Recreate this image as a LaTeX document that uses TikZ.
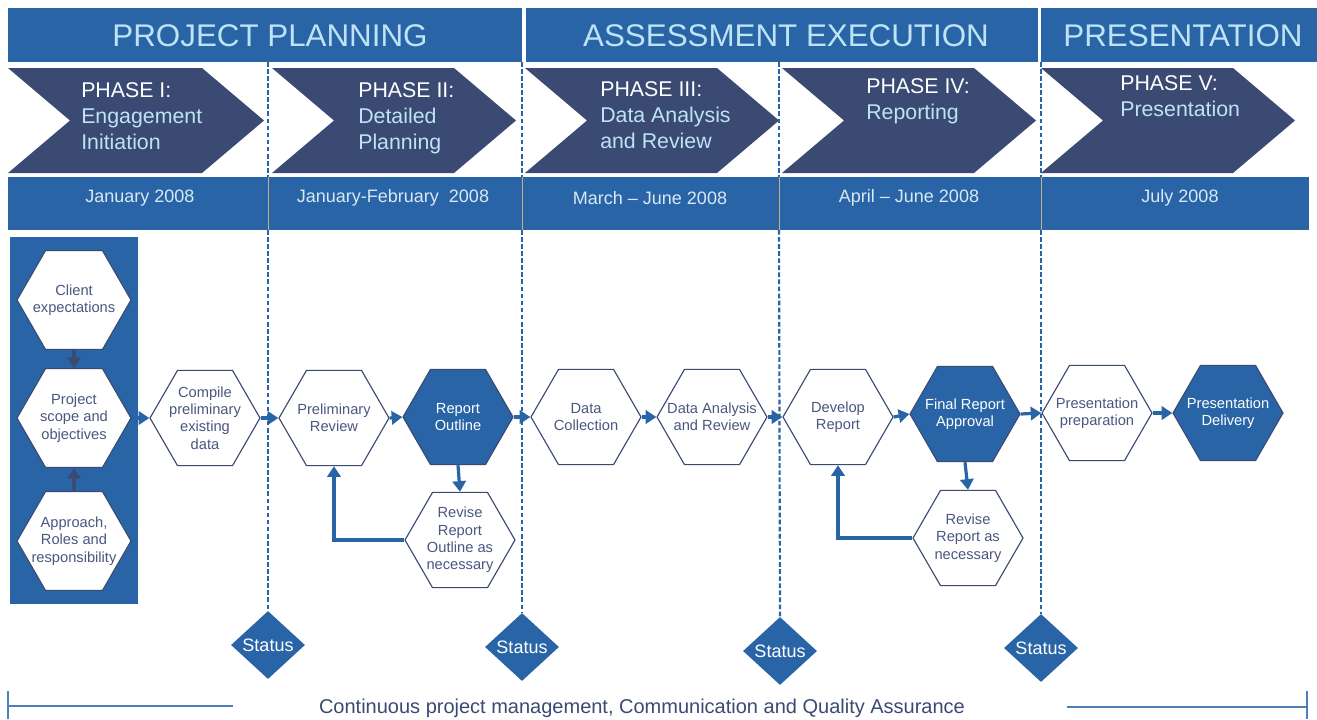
\documentclass[tikz,border=0pt]{standalone}
\usepackage{fontspec}
\setmainfont{Liberation Sans}
\usetikzlibrary{shapes.geometric,arrows.meta,calc}
\definecolor{barblue}{HTML}{2965A6}
\definecolor{navy}{HTML}{3A4A73}
\definecolor{lightblue}{HTML}{BEE3F4}
\definecolor{hextext}{HTML}{4A5880}
\definecolor{datetext}{HTML}{D8E8F5}
\definecolor{sepcol}{HTML}{C2B08C}
\definecolor{linecol}{HTML}{4F7FBA}
\begin{document}
\begin{tikzpicture}[x=0.75pt,y=-0.75pt,
  bar/.style={fill=barblue,draw=none},
  bartext/.style={text=lightblue,font=\fontsize{23.5}{28}\selectfont,inner sep=0pt},
  chev/.style={fill=navy,draw=none},
  chevtext/.style={text=lightblue,font=\fontsize{16}{19.5}\selectfont,align=left,anchor=north west,inner sep=0pt},
  datet/.style={text=datetext,font=\fontsize{13.5}{16}\selectfont,inner sep=0pt},
  hexa/.style={regular polygon,regular polygon sides=6,minimum size=82.5pt,inner sep=0pt,draw=navy,line width=0.85pt,fill=white},
  bighexa/.style={hexa,minimum size=85.5pt},
  hexfill/.style={hexa,fill=barblue},
  hextxt/.style={align=center,font=\fontsize{11}{13}\selectfont,text=hextext,inner sep=0pt},
  hexwtxt/.style={hextxt,text=white},
  flow/.style={draw=barblue,line width=2.4pt,-{Triangle[length=8pt,width=10pt]}},
  navflow/.style={draw=navy,line width=2.4pt,-{Triangle[length=8pt,width=10pt]}},
  dashline/.style={draw=barblue,line width=1.6pt,dash pattern=on 3.5pt off 1.8pt},
  statusd/.style={diamond,fill=barblue,draw=none,inner sep=0pt,minimum width=55.5pt,minimum height=51pt,text=white,font=\fontsize{13.5}{16}\selectfont},
  bline/.style={draw=linecol,line width=1.5pt}
]
\useasboundingbox (0,0) rectangle (1317,719);

% top bars
\fill[bar] (8,8) rectangle (522,62);
\fill[bar] (526,8) rectangle (1038,62);
\fill[bar] (1041,8) rectangle (1317,62);
\node[bartext] (t1) at (270,36) {PROJECT PLANNING};
\node[bartext] (t2) at (786,36) {ASSESSMENT EXECUTION};
\node[bartext] (t3) at (1183,36) {PRESENTATION};

% chevrons
\foreach \L/\R in {8/264,272/516,525/779,782/1036,1041/1295}{
  \fill[chev] (\L,68) -- ({\R-62},68) -- (\R,120.5) -- ({\R-62},173) -- (\L,173) -- ({\L+62},120.5) -- cycle;
}
\node[chevtext] (p1) at (81,82) {\textcolor{white}{PHASE I:}\\Engagement\\Initiation};
\node[chevtext] (p2) at (358,82) {\textcolor{white}{PHASE II:}\\Detailed\\Planning};
\node[chevtext] (p3) at (600,81) {\textcolor{white}{PHASE III:}\\Data Analysis\\and Review};
\node[chevtext] (p4) at (866,78) {\textcolor{white}{PHASE IV:}\\Reporting};
\node[chevtext] (p5) at (1120,75) {\textcolor{white}{PHASE V:}\\Presentation};

% date bar
\fill[bar] (8,177) rectangle (1309,230);
\foreach \x in {268,522,779,1041}{
  \draw[sepcol,line width=0.6pt] (\x,177) -- (\x,230);
}
\node[datet] (d1) at (140,198) {January 2008};
\node[datet] (d2) at (393,198) {January-February\ \ 2008};
\node[datet] (d3) at (650,198) {March – June 2008};
\node[datet] (d4) at (909,198) {April – June 2008};
\node[datet] (d5) at (1180,198) {July 2008};

% status diamonds
\node[statusd] (s1) at (268,645) {Status};
\node[statusd] (s2) at (522,647) {Status};
\node[statusd] (s3) at (780,651) {Status};
\node[statusd] (s4) at (1041,648) {Status};

% dashed lines
\foreach \x/\s in {268/s1,522/s2,779/s3,1041/s4}{
  \draw[dashline] (\x,62) -- (\x,177);
  \draw[dashline] (\x,230) -- (\s.north);
}

% left panel
\fill[bar] (10,237) rectangle (138,604);
\node[bighexa,label={[hextxt]center:{Client\\expectations}}] (ce) at (74,300) {};
\node[bighexa,label={[hextxt]center:{Project\\scope and\\objectives}}] (ps) at (74,418) {};
\node[bighexa,label={[hextxt]center:{Approach,\\Roles and\\responsibility}}] (ap) at (74,541) {};
\draw[navflow] (ce.south) -- (ps.north);
\draw[navflow] (ap.north) -- (ps.south);

% main hexagons
\node[hexa,label={[hextxt]center:{Compile\\preliminary\\existing\\data}}] (cp) at (205,418) {};
\node[hexa,label={[hextxt]center:{Preliminary\\Review}}] (pr) at (334,418) {};
\node[hexfill,label={[hexwtxt]center:{Report\\Outline}}] (ro) at (458,417) {};
\node[hexa,label={[hextxt]center:{Revise\\Report\\Outline as\\necessary}}] (rv) at (460,540) {};
\node[hexa,label={[hextxt]center:{Data\\Collection}}] (dc) at (586,417) {};
\node[hexa,label={[hextxt]center:{Data Analysis\\and Review}}] (da) at (712,417) {};
\node[hexa,label={[hextxt]center:{Develop\\Report}}] (dr) at (838,417) {};
\node[hexfill,label={[hexwtxt]center:{Final Report\\Approval}}] (fa) at (965,414) {};
\node[hexa,label={[hextxt]center:{Revise\\Report as\\necessary}}] (rr) at (968,538) {};
\node[hexa,label={[hextxt]center:{Presentation\\preparation}}] (pp) at (1097,413) {};
\node[hexfill,label={[hexwtxt]center:{Presentation\\Delivery}}] (pd) at (1228,413) {};

% flows
\draw[flow] (ps.east) -- (cp.west);
\draw[flow] (cp.east) -- (pr.west);
\draw[flow] (pr.east) -- (ro.west);
\draw[flow] (ro.east) -- (dc.west);
\draw[flow] (dc.east) -- (da.west);
\draw[flow] (da.east) -- (dr.west);
\draw[flow] (dr.east) -- (fa.west);
\draw[flow] (fa.east) -- (pp.west);
\draw[flow] (pp.east) -- (pd.west);
\draw[flow] (ro.south) -- (rv.north);
\draw[flow] (fa.south) -- (rr.north);
\draw[flow] (rv.west) -| (pr.south);
\draw[flow] (rr.west) -| (dr.south);

% bottom
\node[text=navy,font=\fontsize{15}{18}\selectfont,inner sep=0pt] (cont) at (642,708) {Continuous project management, Communication and Quality Assurance};
\coordinate (bl1) at (8,691);
\coordinate (bl2) at (8,719);
\coordinate (bl3) at (233,706);
\coordinate (br1) at (1307,691);
\coordinate (br2) at (1307,719);
\coordinate (br3) at (1067,707);
\draw[linecol,line width=0.8pt] (bl1) -- (bl2);
\draw[bline] (bl1 |- bl3) -- (bl3);
\draw[linecol,line width=0.8pt] (br1) -- (br2);
\draw[bline] (br3) -- (br1 |- br3);
\end{tikzpicture}
\end{document}
